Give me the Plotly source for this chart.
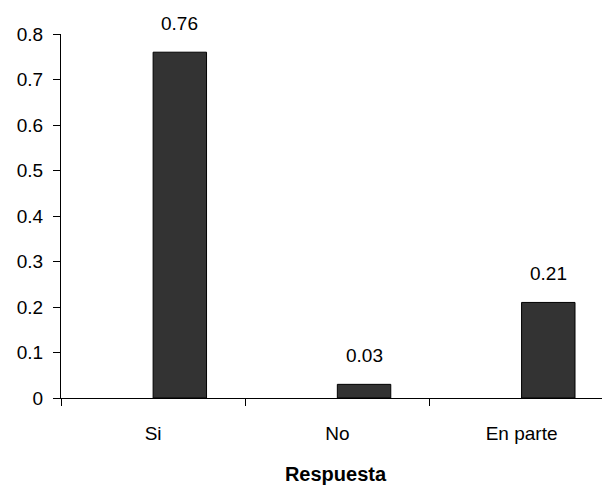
import plotly.graph_objects as go

categories = ["Si", "No", "En parte"]
values = [0.76, 0.03, 0.21]
y_ticks = [0, 0.1, 0.2, 0.3, 0.4, 0.5, 0.6, 0.7, 0.8]

BAR_W = 0.29
FONT = "Liberation Sans, Arial"

fig = go.Figure()
fig.add_trace(go.Bar(
    x=categories, y=values,
    offset=0, width=BAR_W,
    marker=dict(color="#333333", line=dict(color="#000000", width=1)),
    hoverinfo="x+y",
))

for i, v in enumerate(values):
    fig.add_annotation(
        x=i + BAR_W / 2, y=v, xref="x", yref="y",
        text=f"{v:.2f}", showarrow=False,
        yanchor="middle", yshift=29,
        font=dict(family=FONT, size=19, color="#000000"),
    )

fig.update_layout(
    width=602, height=484,
    margin=dict(l=53, r=0, t=26, b=94),
    paper_bgcolor="white", plot_bgcolor="white",
    showlegend=False,
    font=dict(family=FONT, size=19, color="#000000"),
)
fig.update_xaxes(
    range=[-0.5, 2.48],
    tickson="boundaries",
    ticks="outside", ticklen=7, tickcolor="#000", tickwidth=1,
    showline=True, linecolor="#000", linewidth=1,
    showgrid=False, zeroline=False,
    ticklabelstandoff=18,
    title=dict(text="<b>Respuesta</b>", font=dict(size=20), standoff=24),
)
fig.update_yaxes(
    range=[0, 0.8],
    tickvals=y_ticks,
    ticks="outside", ticklen=7, tickcolor="#000", tickwidth=1,
    showline=True, linecolor="#000", linewidth=1,
    showgrid=False, zeroline=False,
    ticklabelstandoff=6,
)

fig.write_html("out.html")
